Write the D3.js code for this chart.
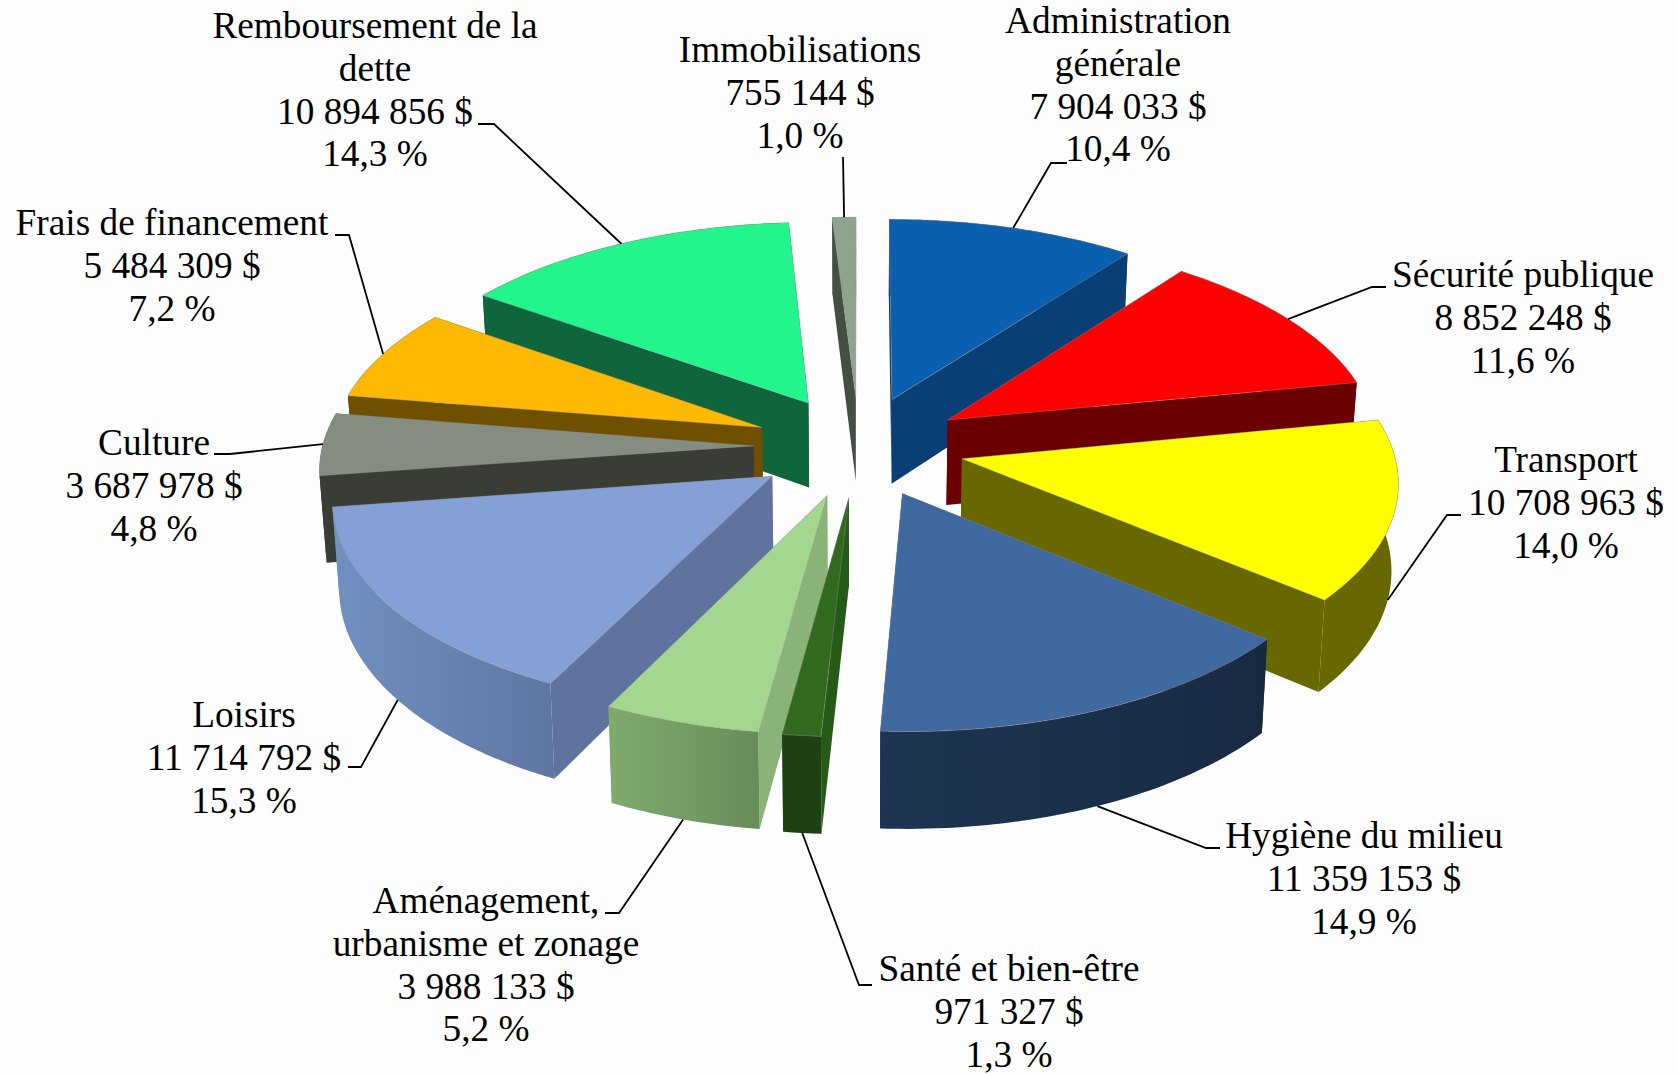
<!DOCTYPE html>
<html>

<head>
    <meta charset="utf-8">
    <style>
        html, body {
            margin: 0;
            padding: 0;
            background: #fdfdfd;
        }

        svg {
            display: block;
        }

        .label {
            font-family: 'Liberation Serif', 'Times New Roman', serif;
            font-size: 37.3px;
            fill: #000;
            text-anchor: middle;
        }

        .leader {
            fill: none;
            stroke: #000;
            stroke-width: 1.8;
        }
    </style>
</head>

<body>
    <svg width="1678" height="1075"></svg>

    <script src="https://cdn.jsdelivr.net/npm/d3@7/dist/d3.min.js"></script>
    <script>
        // chart values, clockwise from 12 o'clock
        let categories = [
            ["Administration", "générale"],
            ["Sécurité publique"],
            ["Transport"],
            ["Hygiène du milieu"],
            ["Santé et bien-être"],
            ["Aménagement,", "urbanisme et zonage"],
            ["Loisirs"],
            ["Culture"],
            ["Frais de financement"],
            ["Remboursement de la", "dette"],
            ["Immobilisations"]
        ]
        let amounts = [7904033, 8852248, 10708963, 11359153, 971327, 3988133, 11714792, 3687978, 5484309, 10894856, 755144]
        let percents = ["10,4 %", "11,6 %", "14,0 %", "14,9 %", "1,3 %", "5,2 %", "15,3 %", "4,8 %", "7,2 %", "14,3 %", "1,0 %"]

        // slice colours: top face, flat walls, curved wall (from, to)
        let topColors = ["#0a5fb0", "#ff0000", "#ffff00", "#3f699f", "#31691f", "#a3d78f", "#85a0d6", "#858c80", "#ffb900", "#22f58c", "#8da58c"]
        let wallColors = ["#0a3f75", "#6b0000", "#686800", "#1a2e48", "#265a17", "#8ab378", "#5f739e", "#3a3d36", "#6e5000", "#0f663c", "#444f44"]
        let rimFrom = ["#0a3f75", "#6b0000", "#686800", "#1d3552", "#1f4011", "#80ab6d", "#7190c0", "#3a3d36", "#6e5000", "#0f663c", "#6d7f6c"]
        let rimTo = ["#0a3f75", "#6b0000", "#686800", "#182a42", "#1f4011", "#688c59", "#5f76a2", "#3a3d36", "#6e5000", "#0f663c", "#6d7f6c"]

        // where each label sits: centre x, first baseline, then the leader's elbow and its end by the text
        let labelX = [1118, 1523, 1566, 1364, 1009, 486, 244, 154, 172, 375, 800]
        let labelY = [33, 287, 472, 848, 981, 913, 727, 455, 235, 38, 62]
        let elbows = [[1051, 163], [1372, 287], [1447, 515], [1206, 848], [859, 985], [619, 913], [361, 767], [230, 454], [349, 235], [494, 124], [843, 157]]
        let leaderEnds = [[1067, 163], [1386, 287], [1461, 515], [1220, 848], [872, 985], [605, 913], [348, 767], [214, 454], [335, 235], [478, 124], null]

        let lineHeight = 42.8
        let explode = 0.245 // pull-out of every slice, in radii
        let eyeDistance = 10.5 // in radii, for the perspective
        let wallHeight = 86
        let wallLean = 0.013 // foot of a wall sits this much closer to the middle

        let svg = d3.select("svg")
        let defs = svg.append("defs")

        let x = d3.scaleLinear().domain([-1, 1]).range([859 - 431, 859 + 431])
        let y = d3.scaleLinear().domain([-1, 1]).range([446.3 - 205.8, 446.3 + 205.8])

        let pie = d3.pie().sort(null).value(d => d)
        let slices = pie(amounts).map((d, i) => {
            d.i = i
            d.mid = (d.startAngle + d.endAngle) / 2
            d.offX = explode * Math.sin(d.mid)
            d.offZ = -explode * Math.cos(d.mid)
            d.label = categories[i]
            return d
        })

        // ground point (+z towards the viewer) to screen, drop = how far down the wall
        function project(gx, gz, drop) {
            let p = eyeDistance / (eyeDistance - gz)
            return [x(gx * p * (1 - wallLean * drop / wallHeight)), y(gz * p) + drop * p]
        }

        function rimPoint(s, a, drop) {
            return project(s.offX + Math.sin(a), s.offZ - Math.cos(a), drop)
        }

        function apexPoint(s, drop) {
            return project(s.offX, s.offZ, drop)
        }

        function arcAngles(s) {
            let n = Math.max(4, Math.ceil((s.endAngle - s.startAngle) / 0.02))
            return d3.range(n + 1).map(k => s.startAngle + (s.endAngle - s.startAngle) * k / n)
        }

        let line = d3.line()
        let closed = pts => line(pts) + "Z"

        // painter's order: far slices first
        let ordered = slices.slice().sort((a, b) => {
            let za = (explode + 0.67) * -Math.cos(a.mid)
            let zb = (explode + 0.67) * -Math.cos(b.mid)
            return za - zb
        })

        let gSlices = svg.append("g").attr("class", "slices")

        ordered.forEach(s => {
            let g = gSlices.append("g").attr("class", "slice")
            let angles = arcAngles(s)

            let gradId = "rim" + s.i
            let grad = defs.append("linearGradient").attr("id", gradId)
            grad.append("stop").attr("offset", "0%").attr("stop-color", rimFrom[s.i])
            grad.append("stop").attr("offset", "100%").attr("stop-color", rimTo[s.i])

            let topArc = angles.map(a => rimPoint(s, a, 0))
            let bottomArc = angles.map(a => rimPoint(s, a, wallHeight)).reverse()

            // the three walls, the nearest one painted last
            let walls = [
                {
                    z: s.offZ - Math.cos(s.startAngle) / 2,
                    fill: wallColors[s.i],
                    pts: [apexPoint(s, 0), rimPoint(s, s.startAngle, 0), rimPoint(s, s.startAngle, wallHeight), apexPoint(s, wallHeight)]
                },
                {
                    z: s.offZ - Math.cos(s.endAngle) / 2,
                    fill: wallColors[s.i],
                    pts: [apexPoint(s, 0), rimPoint(s, s.endAngle, 0), rimPoint(s, s.endAngle, wallHeight), apexPoint(s, wallHeight)]
                },
                {
                    z: s.offZ - Math.cos(s.mid),
                    fill: `url(#${gradId})`,
                    pts: topArc.concat(bottomArc)
                }
            ]

            walls.sort((a, b) => a.z - b.z).forEach(w => {
                g.append("path").attr("d", closed(w.pts)).attr("fill", w.fill)
            })

            g.append("path")
                .attr("d", closed([apexPoint(s, 0)].concat(topArc)))
                .attr("fill", topColors[s.i])
                .attr("stroke", "#999")
                .attr("stroke-opacity", 0.5)
                .attr("stroke-width", 0.8)
        })

        // leaders leave the rim at the slice's middle: top edge behind, wall foot in front
        let gLeaders = svg.append("g").attr("class", "leaders")
        slices.forEach(s => {
            let front = Math.cos(s.mid) < 0
            let pts = [rimPoint(s, s.mid, front ? wallHeight : 0), elbows[s.i]]
            if (leaderEnds[s.i]) pts.push(leaderEnds[s.i])
            gLeaders.append("path").attr("class", "leader").attr("d", line(pts))
        })

        let fmt = d3.formatLocale({ thousands: " ", grouping: [3], decimal: ",", currency: ["", " $"] }).format(",")

        let gLabels = svg.append("g").attr("class", "labels")
        slices.forEach(s => {
            let lines = s.label.concat([fmt(amounts[s.i]) + " $", percents[s.i]])
            let t = gLabels.append("text").attr("class", "label")
            lines.forEach((txt, k) => {
                t.append("tspan")
                    .attr("x", labelX[s.i])
                    .attr("y", labelY[s.i] + k * lineHeight)
                    .text(txt)
            })
        })
    </script>
</body>

</html>
